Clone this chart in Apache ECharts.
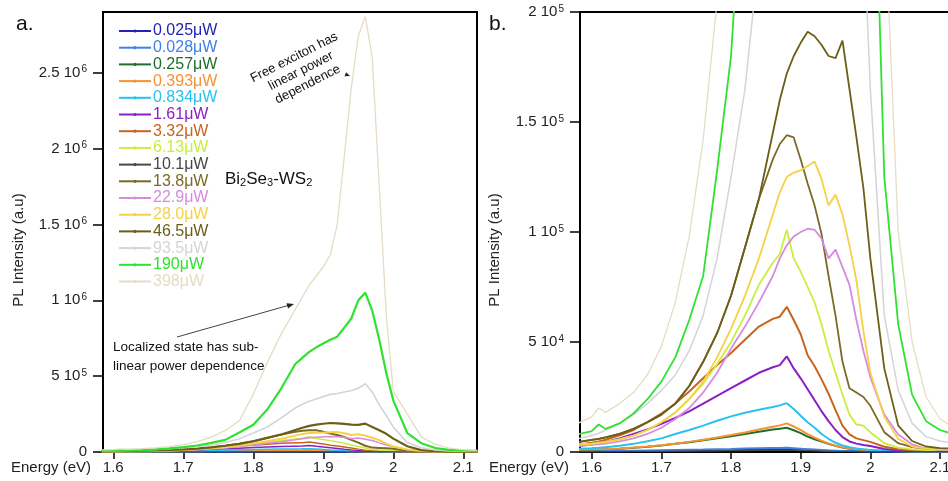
<!DOCTYPE html>
<html><head><meta charset="utf-8">
<script src="https://cdn.jsdelivr.net/npm/echarts@6/dist/echarts.min.js"></script>
<style>html,body{margin:0;padding:0;background:#fff}#c{width:948px;height:481px}</style>
</head><body><div id="c"></div>
<script>
// Photon energy (eV) sampling grid
const energy = [1.58,1.60,1.61,1.62,1.64,1.66,1.68,1.70,1.72,1.74,1.76,1.78,1.80,1.82,1.84,1.86,
  1.87,1.88,1.89,1.90,1.91,1.92,1.93,1.94,1.95,1.96,1.97,1.98,1.99,2.00,2.02,2.04,2.06,2.08,2.10,2.12];

const seriesNames = ['0.025μW','0.028μW','0.257μW','0.393μW','0.834μW','1.61μW','3.32μW','6.13μW',
  '10.1μW','13.8μW','22.9μW','28.0μW','46.5μW','93.5μW','190μW','398μW'];

// PL intensity values in thousands of counts (x1000)
const p0025 = [0.3,0.3,0.3,0.3,0.3,0.4,0.4,0.5,0.5,0.6,0.7,0.8,0.9,1.0,1.1,1.2,1.2,1.3,1.2,1.1,1.0,0.9,0.7,0.6,0.5,0.4,0.4,0.3,0.3,0.3,0.2,0.2,0.2,0.2,0.2,0.2];
const p0028 = [0.4,0.4,0.4,0.5,0.5,0.6,0.7,0.8,0.9,1.0,1.1,1.3,1.4,1.6,1.7,1.8,1.8,1.9,1.7,1.5,1.3,1.1,0.9,0.7,0.6,0.5,0.4,0.4,0.3,0.3,0.3,0.2,0.2,0.2,0.2,0.2];
const p0257 = [0.9,1.0,1.1,1.2,1.5,1.9,2.4,3.0,3.7,4.4,5.3,6.2,7.2,8.2,9.2,10.2,10.6,11.0,9.9,8.6,7.0,5.8,4.7,3.7,2.8,2.0,1.5,1.1,0.9,0.7,0.5,0.4,0.3,0.3,0.3,0.3];
const p0393 = [1.0,1.1,1.2,1.3,1.6,2.0,2.5,3.1,3.8,4.6,5.6,6.6,7.7,8.9,10.2,11.5,12.1,13.0,11.6,9.9,8.1,6.5,5.1,3.9,2.9,2.1,1.6,1.2,1.0,0.8,0.5,0.4,0.3,0.3,0.3,0.3];
const p0834 = [1.4,1.7,1.9,2.2,2.8,3.7,4.9,6.2,8.2,10.0,12.0,14.2,16.2,17.8,19.2,20.5,21.2,22.2,19.5,16.5,13.5,11.0,8.2,6.0,4.2,3.0,2.2,1.6,1.2,0.9,0.6,0.4,0.3,0.3,0.3,0.3];
const p161  = [2.7,3.5,4.0,4.6,6.2,8.2,10.3,12.8,15.5,18.5,22.0,25.5,29.0,32.5,36.0,38.5,39.5,43.5,38.0,33.5,28.5,23.5,18.5,14.0,10.0,6.8,4.8,3.8,3.2,2.7,1.4,0.8,0.5,0.4,0.4,0.4];
const p332  = [3.3,4.2,4.8,5.6,7.6,10.0,13.6,17.5,22.0,27.5,33.5,39.5,45.0,51.0,57.0,60.5,61.5,66.0,60.0,53.5,44.0,39.0,33.0,26.5,19.0,12.0,8.0,6.2,5.4,4.6,2.4,1.3,0.8,0.6,0.5,0.5];
const p613  = [3.5,3.8,4.2,4.6,5.8,7.5,10,13.5,18,24,31,40,50,62,76,86,90,101,88,82,75,68,58,46,36,26,17,12.5,12,9,4,2,1.2,0.9,0.8,0.8];
const p101  = [0.2,0.2,0.2,0.2,0.2,0.3,0.3,0.3,0.4,0.4,0.5,0.5,0.6,0.6,0.7,0.7,0.7,0.8,0.7,0.6,0.6,0.5,0.4,0.4,0.3,0.3,0.3,0.2,0.2,0.2,0.2,0.2,0.2,0.2,0.2,0.2];
const p138  = [4.5,5.5,6.0,6.6,8.2,10.5,13.5,17.0,22,30,41,54,71,93,115,133,140,144,143,133,122,112,99,80,62,41,29,27,25,21,9,4,2.2,1.5,1.2,1.0];
const p229  = [2.8,3.2,3.5,3.8,4.8,6.2,8.2,11,15,20,27,36,47,57,68,80,88,94,98,100,101.5,101,97,88,92,84,76,60,46,34,17,8,3.5,1.5,1.0,0.9];
const p280  = [3.2,3.7,4.0,4.4,5.6,7.4,10,13.5,18,24,32,43,56,71,88,108,118,125,127,128,130,132,124,112,117,108,94,78,55,36,16,6,2.5,1.5,1.2,1.0];
const p465  = [4.5,5.5,6.0,6.6,8.2,10.5,13.5,17.0,22,30,41,54,71,93,115,145,160,172,180,186,191,189,185,180,179,187,165,143,120,88,38,12,5,2.5,1.8,1.5];
const p935  = [6,7.5,8.5,10,13,17,22,28,35,46,62,88,125,165,225,290,315,335,350,365,380,385,395,405,420,450,395,310,240,165,62,28,13,7,5,4];
const p190  = [8,9.5,12.5,10.5,13,17.5,24,32,43,60,80,128,180,280,420,580,620,660,690,715,740,760,820,880,1000,1050,930,740,520,340,125,58,26,14,10,8];
const p398  = [13,16,20,18,22,27,35,48,68,98,142,205,380,590,780,940,1020,1100,1160,1220,1300,1500,1950,2400,2740,2870,2600,1750,900,400,250,100,50,25,15,11];
const seriesValues = [p0025,p0028,p0257,p0393,p0834,p161,p332,p613,p101,p138,p229,p280,p465,p935,p190,p398];
const UNIT = 1000;

const xTicks = [1.6,1.7,1.8,1.9,2.0,2.1];
const yTicksA = [0,5e5,1e6,1.5e6,2e6,2.5e6];
const yTicksB = [0,5e4,1e5,1.5e5,2e5];

// styles
const colors = ['#2323b4','#3f82e6','#1f6e30','#f59232','#27c2ef','#8b20c2','#c9641f','#c9ee3e',
  '#474747','#7a6a26','#d68ae0','#f6d045','#6c5e16','#d4d4da','#2fe22f','#e6dcc2'];
const widthA = [1.5,1.5,1.5,1.5,1.5,1.5,1.5,1.5,1.2,2,1.5,2,2.2,1.6,2.2,1.3];
const widthB = [2,2,2,2,2,2,2,1.8,1.2,1.8,1.8,1.8,1.8,1.5,1.8,1.3];
const FONT = "'Liberation Sans', Arial, sans-serif";

function sciLabel(v){
  if (Math.abs(v) < 1e-9) return '{m|0}';
  const e = Math.floor(Math.log10(v) + 1e-9);
  const m = +(v / Math.pow(10, e)).toFixed(2);
  return '{m|' + m + ' 10}{s|' + e + '}';
}
const richY = {
  m: {fontSize: 15, fontFamily: FONT, color: '#222', lineHeight: 16},
  s: {fontSize: 10, fontFamily: FONT, color: '#222', verticalAlign: 'top', lineHeight: 10, padding: [0,0,10,1]}
};

const chart = echarts.init(document.getElementById('c'), null, {renderer: 'canvas'});

function xAxisCfg(idx, min, max){
  return {
    type: 'value', gridIndex: idx, min: min, max: max,
    axisLine: {show: true, onZero: false, lineStyle: {color: '#000', width: 2}},
    axisTick: {show: true, length: 7, lineStyle: {color: '#000', width: 1.5}, customValues: xTicks},
    axisLabel: {customValues: xTicks, color: '#222', fontSize: 15, fontFamily: FONT, margin: 8,
      formatter: v => String(Math.round(v * 10) / 10)},
    splitLine: {show: false}
  };
}
function yAxisCfg(idx, max, ticks){
  return {
    type: 'value', gridIndex: idx, min: 0, max: max,
    axisLine: {show: true, lineStyle: {color: '#000', width: 2}},
    axisTick: {show: true, length: 10, lineStyle: {color: '#000', width: 1.5}, customValues: ticks},
    axisLabel: {customValues: ticks, margin: 16, formatter: sciLabel, rich: richY},
    splitLine: {show: false}
  };
}

const series = [];
seriesNames.forEach((n, i) => {
  [0, 1].forEach(p => {
    series.push({
      type: 'line', name: n, xAxisIndex: p, yAxisIndex: p,
      data: energy.map((e, j) => [e, seriesValues[i][j] * UNIT]),
      showSymbol: false, symbol: 'circle', symbolSize: 3, smooth: false,
      lineStyle: {width: p === 0 ? widthA[i] : widthB[i], color: colors[i]},
      itemStyle: {color: colors[i]},
      clip: true, silent: true, animation: false
    });
  });
});

const arrowHead = (x, y, ang, len, w) => {
  const c = Math.cos(ang), s = Math.sin(ang);
  return [[x, y], [x - len * c + w * s, y - len * s - w * c], [x - len * c - w * s, y - len * s + w * c]];
};
const angLoc = Math.atan2(304 - 337, 293 - 177);

chart.setOption({
  backgroundColor: '#fff',
  animation: false,
  grid: [
    {left: 103, top: 12, width: 374, height: 440, show: true, borderColor: '#000', borderWidth: 2,
     backgroundColor: 'transparent', containLabel: false, outerBoundsMode: 'none'},
    {left: 580, top: 12, width: 372, height: 440, show: true, borderColor: '#000', borderWidth: 2,
     backgroundColor: 'transparent', containLabel: false, outerBoundsMode: 'none'}
  ],
  xAxis: [xAxisCfg(0, 1.5853, 2.1196), xAxisCfg(1, 1.5832, 2.1172)],
  yAxis: [yAxisCfg(0, 2.9e6, yTicksA), yAxisCfg(1, 2e5, yTicksB)],
  legend: {
    orient: 'vertical', left: 118, top: 23, padding: 0, itemWidth: 32, itemHeight: 4, itemGap: 0.7,
    selectedMode: false,
    data: seriesNames.map((n, i) => ({name: n, textStyle: {color: colors[i]}})),
    textStyle: {fontSize: 16, fontFamily: FONT, padding: [0, 0, 0, -3]}
  },
  series: series,
  graphic: [
    {type: 'text', x: 16, y: 24, style: {text: 'a.', font: '21px ' + FONT, fill: '#111', textVerticalAlign: 'middle'}},
    {type: 'text', x: 489, y: 24, style: {text: 'b.', font: '21px ' + FONT, fill: '#111', textVerticalAlign: 'middle'}},
    {type: 'text', x: 11, y: 468, style: {text: 'Energy (eV)', font: '15px ' + FONT, fill: '#222', textVerticalAlign: 'middle'}},
    {type: 'text', x: 489, y: 468, style: {text: 'Energy (eV)', font: '15px ' + FONT, fill: '#222', textVerticalAlign: 'middle'}},
    {type: 'text', x: 19, y: 250, rotation: Math.PI / 2, style: {text: 'PL Intensity (a.u)', font: '15px ' + FONT, fill: '#222', textAlign: 'center', textVerticalAlign: 'middle'}},
    {type: 'text', x: 495, y: 250, rotation: Math.PI / 2, style: {text: 'PL Intensity (a.u)', font: '15px ' + FONT, fill: '#222', textAlign: 'center', textVerticalAlign: 'middle'}},
    {type: 'text', x: 225, y: 179, style: {
      text: '{n|Bi}{b|2}{n|Se}{b|3}{n|-WS}{b|2}', textVerticalAlign: 'middle',
      rich: {n: {fontSize: 17, fontFamily: FONT, fill: '#111', lineHeight: 18},
             b: {fontSize: 11, fontFamily: FONT, fill: '#111', verticalAlign: 'bottom', lineHeight: 11, padding: [6, 0, 0, 0]}}
    }},
    {type: 'text', x: 113, y: 357, style: {text: 'Localized state has sub-\nlinear power dependence', font: '13.5px ' + FONT, fill: '#111', lineHeight: 18.5, textVerticalAlign: 'middle'}},
    {type: 'text', x: 301, y: 71, rotation: 0.47, style: {text: 'Free exciton has\nlinear power\ndependence', font: '13px ' + FONT, fill: '#111', lineHeight: 15, textAlign: 'center', textVerticalAlign: 'middle'}},
    {type: 'line', shape: {x1: 177, y1: 337, x2: 288, y2: 305.5}, style: {stroke: '#444', lineWidth: 1}},
    {type: 'polygon', shape: {points: arrowHead(294, 304, angLoc, 7, 2.8)}, style: {fill: '#222'}},
    {type: 'polygon', shape: {points: arrowHead(350, 76, 0.35, 5, 2.2)}, style: {fill: '#222'}}
  ]
});
</script></body></html>
